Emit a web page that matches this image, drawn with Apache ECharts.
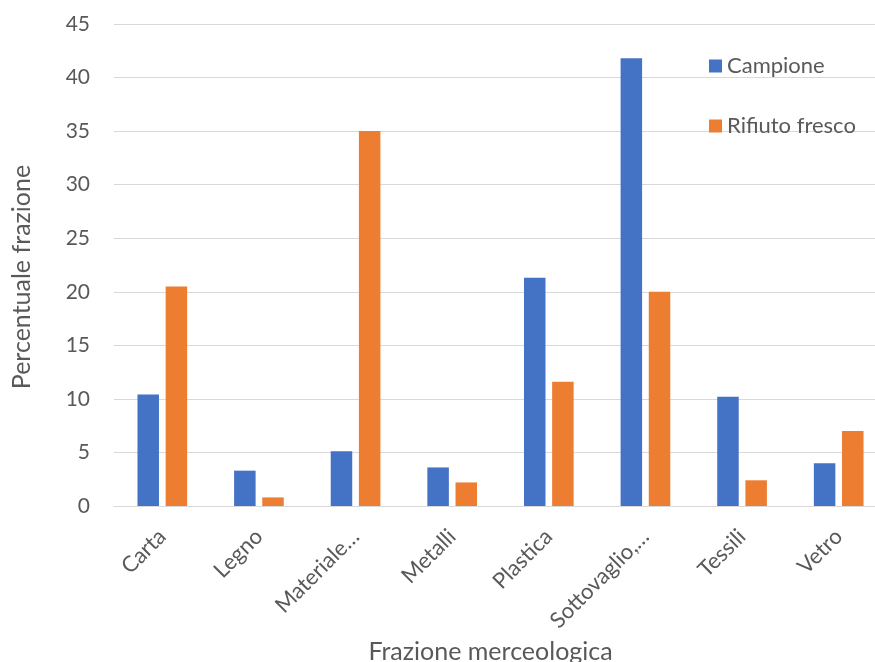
<!DOCTYPE html>
<html>
<head>
<meta charset="utf-8">
<script src="https://cdn.jsdelivr.net/npm/echarts@6/dist/echarts.min.js"></script>
<style>html,body{margin:0;padding:0;background:#fff}#c{width:875px;height:662px}</style>
</head>
<body>
<div id="c"></div>
<script>
var categories = ['Carta', 'Legno', 'Materiale…', 'Metalli', 'Plastica', 'Sottovaglio,…', 'Tessili', 'Vetro'];
var campione = [10.4, 3.3, 5.1, 3.6, 21.3, 41.8, 10.2, 4.0];
var rifiutoFresco = [20.5, 0.8, 35.0, 2.2, 11.6, 20.0, 2.4, 7.0];
var seriesNames = ['Campione', 'Rifiuto fresco'];
var yTicks = {min: 0, max: 45, interval: 5};

var FONT = 'Lato';
var TXT = '#595959';
var chart = echarts.init(document.getElementById('c'), null, {renderer: 'canvas'});
chart.setOption({
  animation: false,
  backgroundColor: '#fff',
  textStyle: {fontFamily: FONT, color: TXT},
  grid: {left: 114, right: -12, top: 24, bottom: 156, containLabel: false, outerBoundsMode: 'none'},
  legend: {
    orient: 'vertical',
    left: 709,
    top: 55,
    padding: 0,
    itemWidth: 13,
    itemHeight: 13,
    itemGap: 38,
    icon: 'rect',
    textStyle: {fontFamily: FONT, fontSize: 22, color: TXT, lineHeight: 22},
    data: seriesNames
  },
  xAxis: {
    type: 'category',
    data: categories,
    name: 'Frazione merceologica',
    nameLocation: 'middle',
    nameGap: 131,
    nameTextStyle: {fontFamily: FONT, fontSize: 25, color: TXT, padding: [0, 20, 0, 0]},
    axisLine: {show: true, lineStyle: {color: '#d9d9d9', width: 1}},
    axisTick: {show: false},
    axisLabel: {rotate: 45, margin: 27, fontFamily: FONT, fontSize: 22, color: TXT, interval: 0}
  },
  yAxis: {
    type: 'value',
    min: yTicks.min,
    max: yTicks.max,
    interval: yTicks.interval,
    name: 'Percentuale frazione',
    nameLocation: 'middle',
    nameGap: 80,
    nameRotate: 90,
    nameTextStyle: {fontFamily: FONT, fontSize: 25, color: TXT, padding: [0, 24, 0, 0]},
    axisLine: {show: false},
    axisTick: {show: false},
    axisLabel: {margin: 24, fontFamily: FONT, fontSize: 21, color: TXT},
    splitLine: {show: true, lineStyle: {color: '#d9d9d9', width: 1}}
  },
  series: [
    {name: seriesNames[0], type: 'bar', data: campione, barWidth: 21.5, barGap: '31%',
     itemStyle: {color: '#4472C4'}},
    {name: seriesNames[1], type: 'bar', data: rifiutoFresco, barWidth: 21.5, barGap: '31%',
     itemStyle: {color: '#ED7D31'}}
  ]
});
</script>
</body>
</html>
